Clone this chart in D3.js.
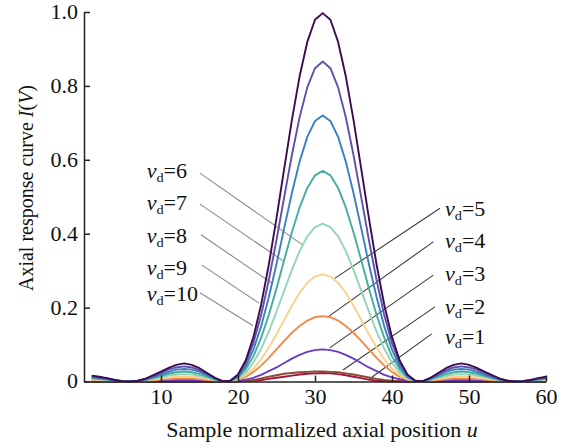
<!DOCTYPE html>
<html>
<head>
<meta charset="utf-8">
<script src="https://cdn.jsdelivr.net/npm/d3@7"></script>
<style>
  body { margin: 0; background: #fff; }
  svg { display: block; }
  text { font-family: "Liberation Serif", "Times New Roman", serif; fill: #111; }
</style>
</head>
<body>
<svg id="chart" width="563" height="448"></svg>
<script>
// Sample positions along the optical axis
const u = d3.range(1, 61);

// Axial response I(V) for each detector size v_d, one value per sample position
const vd1 = [0,0,0,0,0,0,0,0,0,0,0,0,0,0,0,0,0,0,0,0,
  0.001,0.002,0.004,0.007,0.010,0.013,0.016,0.019,0.021,0.022,0.023,0.022,0.020,0.017,0.013,0.009,0.005,0.002,0.001,
  0,0,0,0,0,0,0,0,0,0,0,0,0,0,0,0,0,0,0,0,0,0];
const vd2 = [0,0,0,0,0,0,0,0,0,0,0,0,0,0,0,0,0,0,0,
  0.001,0.002,0.004,0.008,0.013,0.017,0.021,0.023,0.025,0.026,0.027,0.027,0.026,0.025,0.022,0.019,0.015,0.011,0.007,0.004,0.002,0.001,
  0,0,0,0,0,0,0,0,0,0,0,0,0,0,0,0,0,0,0];
const vd3 = [0.001,0.001,0.001,0,0,0,0,0.001,0.001,0.002,0.003,0.004,0.004,0.004,0.003,0.002,0.001,0,0,0.002,
  0.005,0.010,0.018,0.028,0.038,0.050,0.062,0.072,0.080,0.085,0.087,0.085,0.080,0.072,0.062,0.050,0.038,0.028,0.018,0.011,
  0.006,0.002,0,0,0.001,0.002,0.003,0.004,0.004,0.004,0.003,0.002,0.001,0.001,0,0,0,0,0.001,0.001];
const vd4 = [0.003,0.002,0.002,0.001,0,0,0,0.001,0.003,0.005,0.007,0.008,0.008,0.008,0.006,0.004,0.002,0,0,0.005,
  0.012,0.026,0.043,0.064,0.087,0.110,0.132,0.150,0.165,0.174,0.177,0.174,0.165,0.150,0.132,0.110,0.087,0.064,0.043,0.026,
  0.012,0.005,0,0,0.002,0.004,0.006,0.008,0.008,0.008,0.007,0.005,0.003,0.001,0,0,0,0.001,0.002,0.002];
const vd5 = [0.005,0.004,0.003,0.001,0,0,0.001,0.002,0.005,0.008,0.011,0.013,0.014,0.013,0.010,0.007,0.003,0,0.001,0.006,
  0.017,0.035,0.060,0.092,0.128,0.167,0.205,0.240,0.267,0.284,0.290,0.284,0.267,0.240,0.205,0.167,0.128,0.092,0.060,0.035,
  0.017,0.006,0.001,0,0.003,0.007,0.010,0.013,0.014,0.013,0.011,0.008,0.005,0.002,0.001,0,0,0.001,0.003,0.004];
const vd6 = [0.007,0.006,0.004,0.002,0,0,0.001,0.003,0.007,0.011,0.016,0.019,0.020,0.019,0.015,0.010,0.004,0,0.001,0.008,
  0.024,0.051,0.088,0.135,0.189,0.246,0.302,0.353,0.393,0.418,0.427,0.418,0.393,0.353,0.302,0.246,0.189,0.135,0.088,0.051,
  0.024,0.008,0.001,0,0.004,0.010,0.015,0.019,0.020,0.019,0.016,0.011,0.007,0.003,0.001,0,0,0.002,0.004,0.006];
const vd7 = [0.009,0.007,0.005,0.003,0.001,0,0.001,0.004,0.009,0.015,0.021,0.025,0.027,0.025,0.020,0.013,0.006,0.001,0.001,0.011,
  0.033,0.068,0.118,0.180,0.252,0.329,0.404,0.471,0.524,0.558,0.570,0.558,0.524,0.471,0.404,0.329,0.252,0.180,0.118,0.068,
  0.033,0.011,0.001,0.001,0.006,0.013,0.020,0.025,0.027,0.025,0.021,0.015,0.009,0.004,0.001,0,0.001,0.003,0.005,0.007];
const vd8 = [0.011,0.009,0.006,0.003,0.001,0,0.002,0.006,0.012,0.019,0.026,0.032,0.034,0.032,0.026,0.017,0.007,0.001,0.002,0.014,
  0.041,0.086,0.149,0.228,0.318,0.415,0.510,0.595,0.662,0.705,0.720,0.705,0.662,0.595,0.510,0.415,0.318,0.228,0.149,0.086,
  0.041,0.014,0.002,0.001,0.007,0.017,0.026,0.032,0.034,0.032,0.026,0.019,0.012,0.006,0.002,0,0.001,0.003,0.006,0.009];
const vd9 = [0.014,0.011,0.008,0.004,0.001,0,0.002,0.007,0.014,0.023,0.032,0.038,0.041,0.038,0.031,0.020,0.009,0.001,0.002,0.017,
  0.050,0.104,0.179,0.274,0.383,0.499,0.613,0.715,0.796,0.848,0.866,0.848,0.796,0.715,0.613,0.499,0.383,0.274,0.179,0.104,
  0.050,0.017,0.002,0.001,0.009,0.020,0.031,0.038,0.041,0.038,0.032,0.023,0.014,0.007,0.002,0,0.001,0.004,0.008,0.011];
const vd10 = [0.016,0.013,0.009,0.004,0.001,0,0.002,0.008,0.017,0.027,0.037,0.045,0.049,0.045,0.036,0.023,0.010,0.001,0.002,0.019,
  0.057,0.120,0.207,0.316,0.442,0.576,0.708,0.826,0.919,0.979,0.997,0.979,0.919,0.826,0.708,0.576,0.442,0.316,0.207,0.120,
  0.057,0.019,0.002,0.001,0.010,0.023,0.036,0.045,0.049,0.045,0.037,0.027,0.017,0.008,0.002,0,0.001,0.004,0.009,0.013];

const seriesNames = ["1", "2", "3", "4", "5", "6", "7", "8", "9", "10"];
const seriesValues = [vd1, vd2, vd3, vd4, vd5, vd6, vd7, vd8, vd9, vd10];
const seriesColors = ["#a3173f", "#8c4a36", "#6a3bc4", "#f28a48", "#fdd18c",
                      "#93d5b9", "#44ad9e", "#3a7fc1", "#5d51aa", "#3c0c52"];

const xTicks = [10, 20, 30, 40, 50, 60];
const yTicks = [0, 0.2, 0.4, 0.6, 0.8, 1.0];

// Callout labels: text anchor, leader-line start and leader-line end, in data units (u, I)
const calloutVd    = ["6", "7", "8", "9", "10", "5", "4", "3", "2", "1"];
const calloutText  = [[8.14, 0.551], [8.14, 0.464], [8.14, 0.375], [8.14, 0.288], [8.14, 0.218],
                      [46.88, 0.448], [46.88, 0.361], [46.88, 0.272], [46.88, 0.183], [46.88, 0.102]];
const calloutFrom  = [[15.06, 0.564], [15.06, 0.480], [15.19, 0.397], [15.32, 0.315], [15.06, 0.240],
                      [46.23, 0.469], [45.36, 0.378], [45.36, 0.288], [45.58, 0.202], [45.16, 0.129]];
const calloutTo    = [[28.44, 0.369], [25.97, 0.325], [24.42, 0.266], [22.73, 0.212], [21.95, 0.151],
                      [32.56, 0.279], [31.69, 0.175], [31.91, 0.091], [33.64, 0.031], [36.88, 0.004]];
const calloutStroke = ["#8a8a8a", "#8a8a8a", "#8a8a8a", "#8a8a8a", "#8a8a8a",
                       "#3a3a3a", "#3a3a3a", "#3a3a3a", "#3a3a3a", "#3a3a3a"];

// Horizontal text in this figure is set slightly wide
const WIDE = "scale(1.1,1)";

const svg = d3.select("#chart");
const x = d3.scaleLinear().domain([0, 60]).range([84, 546]);
const y = d3.scaleLinear().domain([0, 1]).range([381.5, 12]);

// Leader lines (under the curves)
const callouts = calloutVd.map((vd, i) => ({
  vd, text: calloutText[i], from: calloutFrom[i], to: calloutTo[i], stroke: calloutStroke[i]
}));
svg.append("g").selectAll("line").data(callouts).join("line")
  .attr("x1", d => x(d.from[0])).attr("y1", d => y(d.from[1]))
  .attr("x2", d => x(d.to[0])).attr("y2", d => y(d.to[1]))
  .attr("stroke", d => d.stroke).attr("stroke-width", 1.1);

// Response curves, smallest detector first so the largest sits on top
const line = d3.line().x((d, i) => x(u[i])).y(d => y(d));
svg.append("g").selectAll("path").data(seriesValues).join("path")
  .attr("d", d => line(d))
  .attr("fill", "none")
  .attr("stroke", (d, i) => seriesColors[i])
  .attr("stroke-width", 1.9)
  .attr("stroke-linejoin", "round");

// Axes
const fmtY = d => d === 0 ? "0" : d3.format(".1f")(d);
const yAxis = svg.append("g").attr("transform", `translate(${x(0)},0)`)
  .call(d3.axisLeft(y).tickValues(yTicks).tickFormat(fmtY).tickSizeInner(-6).tickSizeOuter(0).tickPadding(6));
const xAxis = svg.append("g").attr("transform", `translate(0,${y(0)})`)
  .call(d3.axisBottom(x).tickValues(xTicks).tickSizeInner(-6).tickSizeOuter(0).tickPadding(8));
[xAxis, yAxis].forEach(g => {
  g.select(".domain").attr("stroke", "#222").attr("stroke-width", 1.5);
  g.selectAll(".tick line").attr("stroke", "#222").attr("stroke-width", 1.5);
  g.selectAll(".tick text").attr("font-size", 20).attr("fill", "#111")
    .attr("transform", WIDE)
    .style("font-family", '"Liberation Serif", "Times New Roman", serif');
});
yAxis.selectAll(".tick text").attr("x", -6 / 1.1);

// Axis titles
const xt = svg.append("text").attr("transform", `translate(322,437) ${WIDE}`)
  .attr("text-anchor", "middle").attr("font-size", 20);
xt.append("tspan").text("Sample normalized axial position ");
xt.append("tspan").attr("font-style", "italic").text("u");

const yt = svg.append("text").attr("transform", "translate(33,188) rotate(-90)")
  .attr("text-anchor", "middle").attr("font-size", 20);
yt.append("tspan").text("Axial response curve ");
yt.append("tspan").attr("font-style", "italic").text("I");
yt.append("tspan").text("(");
yt.append("tspan").attr("font-style", "italic").text("V");
yt.append("tspan").text(")");

// Callout texts: v_d=n
const labels = svg.append("g").selectAll("text").data(callouts).join("text")
  .attr("transform", d => `translate(${x(d.text[0])},${y(d.text[1])}) ${WIDE}`)
  .attr("font-size", 20);
labels.append("tspan").attr("font-style", "italic").text("v");
labels.append("tspan").attr("font-size", 13).attr("dy", 4).text("d");
labels.append("tspan").attr("dy", -4).text(d => "=" + d.vd);
</script>
</body>
</html>
